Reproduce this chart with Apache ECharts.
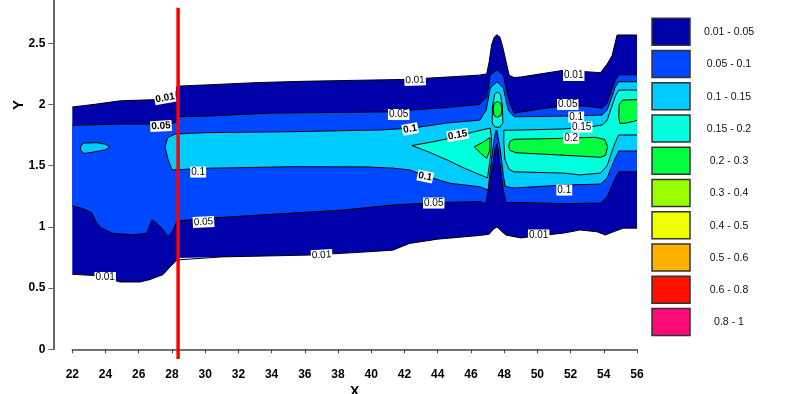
<!DOCTYPE html>
<html>
<head>
<meta charset="utf-8">
<script src="https://cdn.jsdelivr.net/npm/echarts@6/dist/echarts.min.js"></script>
<style>html,body{margin:0;padding:0;background:#fff}#c{width:798px;height:394px}</style>
</head>
<body>
<div id="c"></div>
<script>
// ---------- data ----------
const xTicksMin = 22, xTicksMax = 56, xTickStep = 2;
const yTickValues = [0, 0.5, 1, 1.5, 2, 2.5];
const bandLabels = ['0.01 - 0.05','0.05 - 0.1','0.1 - 0.15','0.15 - 0.2','0.2 - 0.3','0.3 - 0.4','0.4 - 0.5','0.5 - 0.6','0.6 - 0.8','0.8 - 1'];
const bandColors = ['#0000AA','#0048FF','#00CCFF','#00FFDD','#00FF40','#99FF00','#EEFF00','#FFB000','#FF1000','#FF0A78'];

// contour 0.01 (outer boundary)
const c01Upper = [[22,1.98],[23.25,2.0],[24.87,2.03],[26.98,2.04],[28.2,2.05],[28.3,2.15],[30,2.16],[33.3,2.18],[36,2.19],[40,2.2],[42,2.205],[44,2.22],[46.5,2.24],[46.95,2.25],[47.1,2.35],[47.25,2.49],[47.4,2.55],[47.57,2.57],[47.75,2.55],[47.9,2.48],[48.1,2.36],[48.3,2.24],[48.6,2.22],[49,2.225],[51.6,2.28],[53.8,2.26],[54.2,2.33],[54.5,2.40],[54.8,2.568],[56,2.568]];
const c01Lower = [[22,0.613],[23.67,0.6],[24.87,0.55],[26.08,0.55],[26.68,0.57],[27.46,0.61],[27.9,0.675],[28.3,0.73],[28.4,0.746],[31,0.755],[36.3,0.77],[39,0.79],[41.3,0.81],[42.3,0.865],[44,0.9],[46.5,0.93],[47.1,0.94],[47.35,0.98],[47.57,1.0],[47.8,0.97],[48.1,0.934],[49,0.91],[51.6,0.95],[52.58,0.975],[53.6,0.96],[54.09,0.934],[54.58,0.96],[55.17,0.99],[56,0.99]];
// contour 0.05
const c05Upper = [[22,1.83],[24.87,1.84],[27.5,1.84],[28.2,1.85],[28.35,1.90],[30,1.905],[34,1.93],[38,1.935],[41.3,1.94],[42.5,1.955],[44.5,1.975],[46.5,2.0],[46.96,2.06],[47.16,2.24],[47.57,2.283],[47.95,2.24],[48.17,2.1],[48.37,2.0],[48.6,1.93],[50,1.96],[51.6,1.99],[53.0,1.985],[53.9,1.97],[54.2,2.01],[54.45,2.11],[54.7,2.20],[54.9,2.243],[56,2.243]];
const c05Lower = [[22,1.171],[22.57,1.152],[23.17,1.116],[23.47,1.029],[23.77,0.989],[24.45,0.948],[25.66,0.934],[26.48,0.948],[26.78,1.056],[26.98,1.042],[27.39,0.989],[27.78,0.92],[28.08,0.975],[28.29,1.042],[28.37,1.056],[30,1.07],[33.3,1.097],[38.3,1.138],[41.3,1.179],[44,1.2],[46.54,1.206],[46.9,1.19],[47.1,1.35],[47.25,1.45],[47.45,1.62],[47.55,1.68],[47.65,1.62],[47.8,1.45],[47.95,1.3],[48.1,1.2],[48.3,1.2],[49,1.2],[51.6,1.19],[53.8,1.195],[54.2,1.245],[54.5,1.34],[54.75,1.415],[54.9,1.45],[56,1.45]];
// contour 0.1
const c10Upper = [[28.0,1.465],[27.77,1.55],[27.58,1.655],[27.75,1.73],[28.19,1.759],[30,1.77],[35.3,1.778],[40.5,1.792],[42.5,1.808],[44.57,1.849],[46.54,1.873],[46.92,1.955],[47.16,2.135],[47.57,2.186],[47.95,2.135],[48.25,1.955],[48.6,1.9],[51.56,1.905],[53.9,1.914],[54.2,1.955],[54.45,2.05],[54.7,2.145],[54.9,2.186],[56,2.186]];
const c10Lower = [[28.0,1.465],[30.1,1.479],[35.3,1.492],[39.7,1.49],[41.32,1.48],[42.34,1.465],[43.25,1.416],[44.75,1.356],[46.54,1.328],[47.04,1.30],[47.15,1.45],[47.4,1.72],[47.52,1.79],[47.62,1.79],[47.75,1.65],[47.95,1.42],[48.07,1.33],[48.6,1.318],[51.56,1.342],[53.8,1.35],[54.2,1.40],[54.5,1.50],[54.75,1.58],[54.9,1.62],[56,1.62]];
const c10Island = [[22.5,1.655],[22.65,1.685],[23.5,1.688],[24.0,1.675],[24.27,1.655],[24.0,1.63],[23.2,1.61],[22.7,1.6],[22.5,1.625],[22.5,1.655]];
// contour 0.15
const c15Left = [[42.45,1.665],[43.5,1.69],[44.75,1.724],[46,1.77],[47.16,1.808],[47.24,1.72],[47.2,1.60],[47.1,1.50],[47.0,1.40],[46.9,1.40],[45.6,1.48],[44.57,1.547],[43.5,1.61],[42.45,1.665]];
const c15Spike = [[47.28,1.85],[47.3,1.98],[47.42,2.08],[47.6,2.105],[47.78,2.08],[47.9,1.98],[47.92,1.85],[47.75,1.815],[47.45,1.815],[47.28,1.85]];
const c15RightUpper = [[48.05,1.55],[47.98,1.68],[47.98,1.79],[48.5,1.79],[51.5,1.80],[53.3,1.82],[53.9,1.833],[54.2,1.87],[54.45,1.97],[54.7,2.07],[54.9,2.118],[56,2.118]];
const c15RightLower = [[48.05,1.55],[48.3,1.47],[48.6,1.45],[51.56,1.44],[52.58,1.425],[53.8,1.44],[54.2,1.50],[54.5,1.62],[54.75,1.71],[54.9,1.751],[56,1.751]];
// contour 0.2
const c20Left = [[46.2,1.655],[46.7,1.69],[47.15,1.73],[47.12,1.62],[46.95,1.56],[46.6,1.6],[46.2,1.655]];
const c20Spike = [[47.33,1.96],[47.4,2.01],[47.6,2.025],[47.8,2.01],[47.87,1.96],[47.8,1.91],[47.6,1.895],[47.4,1.91],[47.33,1.96]];
const c20Mid = [[48.27,1.66],[48.35,1.70],[48.6,1.716],[51,1.722],[53.5,1.732],[54.05,1.715],[54.23,1.655],[54.1,1.585],[53.8,1.569],[51,1.59],[48.7,1.606],[48.35,1.625],[48.27,1.66]];
const c20RightUpper = [[54.9,1.9],[54.93,2.0],[55.15,2.037],[56,2.04]];
const c20RightLower = [[54.9,1.9],[54.97,1.845],[55.4,1.85],[56,1.87]];

// contour labels [x, y, text]
const contourLabels = [
  [27.59,2.053,'0.01'],[27.34,1.824,'0.05'],[29.58,1.448,'0.1'],[29.9,1.04,'0.05'],[23.98,0.587,'0.01'],
  [37.01,0.77,'0.01'],[42.64,2.2,'0.01'],[41.65,1.918,'0.05'],[42.34,1.8,'0.1'],[45.2,1.751,'0.15'],
  [43.25,1.412,'0.1'],[43.76,1.195,'0.05'],[50.08,0.934,'0.01'],[52.19,2.237,'0.01'],[51.83,2.0,'0.05'],
  [52.34,1.898,'0.1'],[52.67,1.816,'0.15'],[52.04,1.722,'0.2'],[51.62,1.301,'0.1']
];
const labelAngles = [10,3,0,3,0,3,2,0,10,10,-12,0,0,0,0,0,0,0,0];
const labelBold = [1,1,0,0,0,0,0,0,1,1,1,0,0,0,0,0,0,0,0];

// vertical red marker
const markerLine = [[28.37,2.79],[28.37,-0.08]];

// ---------- build ----------
const regions = [
  {lv:0, upper:c01Upper, lower:c01Lower},
  {lv:1, upper:c05Upper, lower:c05Lower},
  {lv:2, ring:c10Island},
  {lv:2, upper:c10Upper, lower:c10Lower},
  {lv:3, ring:c15Left},
  {lv:3, ring:c15Spike},
  {lv:3, upper:c15RightUpper, lower:c15RightLower},
  {lv:4, ring:c20Left},
  {lv:4, ring:c20Spike},
  {lv:4, ring:c20Mid},
  {lv:4, upper:c20RightUpper, lower:c20RightLower}
];
const polys = regions.map(r => r.ring ? r.ring : r.upper.concat(r.lower.slice().reverse()));
const polylines = [];
regions.forEach(r => { if (r.ring) polylines.push(r.ring); else { polylines.push(r.upper); polylines.push(r.lower); } });

const series = [];
series.push({
  type:'custom', name:'bands', coordinateSystem:'cartesian2d', silent:true, z:2,
  data: polys.map(p => p[0]),
  renderItem: function(params, api){
    const i = params.dataIndex;
    const pts = polys[i].map(p => api.coord(p));
    return {type:'polygon', shape:{points:pts}, style:{fill:bandColors[regions[i].lv], stroke:null}};
  }
});
polylines.forEach(pl => series.push({
  type:'line', data:pl, showSymbol:false, symbol:'none', silent:true, z:5,
  lineStyle:{color:'#000', width:1}, animation:false
}));
series.push({
  type:'custom', name:'labels', coordinateSystem:'cartesian2d', silent:true, z:8,
  data: contourLabels.map(l => [l[0], l[1]]),
  renderItem: function(params, api){
    const i = params.dataIndex;
    const c = api.coord([contourLabels[i][0], contourLabels[i][1]]);
    return {type:'text', x:c[0], y:c[1], rotation: labelAngles[i]*Math.PI/180,
      style:{text:contourLabels[i][2], fill:'#000', font:(labelBold[i]?'bold ':'')+'10px "Liberation Sans", Arial, sans-serif',
        align:'center', verticalAlign:'middle', backgroundColor:'#fff', padding:[1,1,0,1]}};
  }
});
series.push({
  type:'line', data:markerLine, showSymbol:false, symbol:'none', clip:false, silent:true, z:10,
  lineStyle:{color:'#FF0000', width:3.5}, animation:false
});

const legendGraphics = bandLabels.map((t,i) => ({
  type:'group', x:652, y:18.3 + i*32.25, children:[
    {type:'rect', shape:{x:0,y:0,width:38,height:27}, style:{fill:bandColors[i], stroke:'#333', lineWidth:1.5}},
    {type:'text', x:77, y:14, style:{text:t, fill:'#111', font:'10.5px "Liberation Sans", Arial, sans-serif', align:'center', verticalAlign:'middle'}}
  ]
}));

const chart = echarts.init(document.getElementById('c'), null, {renderer:'canvas'});
chart.setOption({
  animation:false,
  backgroundColor:'#fff',
  grid:{left:72.3, right:161, top:0, bottom:44.7, containLabel:false, outerBoundsMode:'none'},
  xAxis:{type:'value', min:xTicksMin, max:xTicksMax, interval:xTickStep, offset:14,
    name:'X', nameLocation:'middle', nameGap:17,
    nameTextStyle:{fontWeight:'bold', fontSize:14, color:'#000', fontFamily:'Liberation Sans'},
    axisLine:{show:true, lineStyle:{color:'#444', width:1.5}},
    axisTick:{show:true, inside:false, length:4, lineStyle:{color:'#444'}},
    axisLabel:{show:true, margin:5, color:'#000', fontWeight:'bold', fontSize:12, fontFamily:'Liberation Sans', interval:0},
    splitLine:{show:false}},
  yAxis:{type:'value', min:0, max:2.854, offset:19,
    axisLine:{show:true, lineStyle:{color:'#666', width:2}},
    axisTick:{show:true, length:5, lineStyle:{color:'#666'}, customValues:yTickValues},
    axisLabel:{show:true, margin:8, color:'#000', fontWeight:'bold', fontSize:12, fontFamily:'Liberation Sans', customValues:yTickValues},
    splitLine:{show:false}},
  graphic:[
    {type:'text', x:19, y:105, rotation:Math.PI/2, style:{text:'Y', fill:'#000', font:'bold 15px "Liberation Sans", Arial', align:'center', verticalAlign:'middle'}}
  ].concat(legendGraphics),
  series:series
});
</script>
</body>
</html>
